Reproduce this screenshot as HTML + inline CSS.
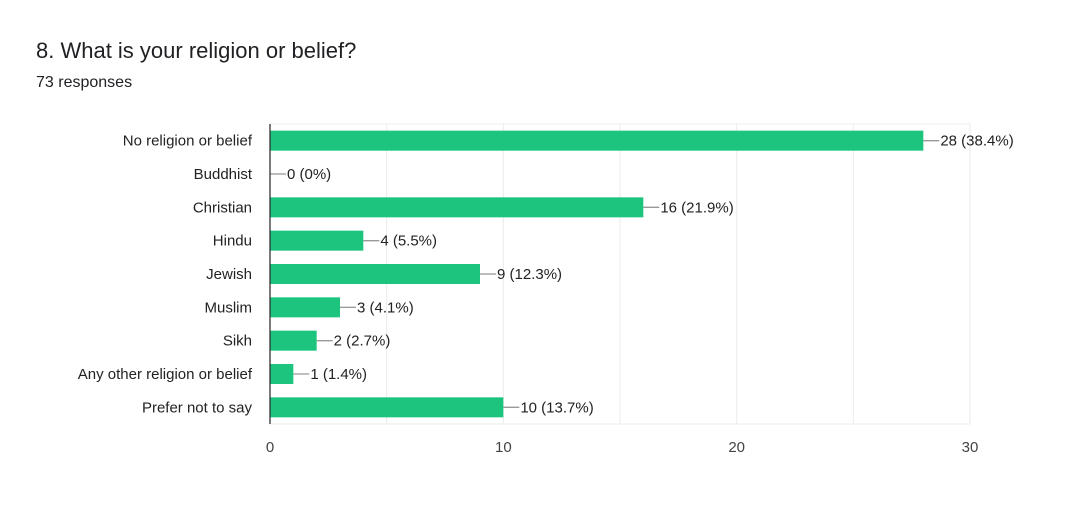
<!DOCTYPE html>
<html><head><meta charset="utf-8"><style>
body{margin:0;background:#fff;font-family:"Liberation Sans",Arial,sans-serif;}
#wrap{position:relative;width:1080px;height:513px;overflow:hidden;}
</style></head><body>
<div id="wrap">
<div style="position:absolute;left:36px;top:38px;font-size:22px;color:#202124;">8. What is your religion or belief?</div>
<div style="position:absolute;left:36px;top:74px;font-size:16px;color:#202124;">73 responses</div>
<svg id="chart" width="1080" height="513" style="position:absolute;left:0;top:0"></svg>
</div>
<script>
const categories=["No religion or belief","Buddhist","Christian","Hindu","Jewish","Muslim","Sikh","Any other religion or belief","Prefer not to say"];
const counts=[28,0,16,4,9,3,2,1,10];
const percents=["38.4%","0%","21.9%","5.5%","12.3%","4.1%","2.7%","1.4%","13.7%"];
const ticks=[0,10,20,30];
const gridVals=[5,10,15,20,25,30];
const svg=document.getElementById('chart');
const NS='http://www.w3.org/2000/svg';
const x0=270,x1=970,plotTop=124,plotBottom=424,maxV=30;
const xs=v=>x0+(x1-x0)*v/maxV;
const band=(plotBottom-plotTop)/categories.length;
const yc=i=>plotTop+band*(i+0.5);
function mk(t,a){const e=document.createElementNS(NS,t);for(const k in a)e.setAttribute(k,a[k]);svg.appendChild(e);return e;}
let b=mk('rect',{x:x0,y:plotTop,width:x1-x0,height:plotBottom-plotTop,fill:'none',stroke:'#eeeeee'});


gridVals.forEach(v=>{const g=mk('line',{x1:xs(v),x2:xs(v),y1:plotTop,y2:plotBottom,stroke:'#ebebeb'});

});
ticks.forEach(v=>{const t=mk('text',{x:xs(v),y:452,'text-anchor':'middle','font-size':15,fill:'#444'});t.textContent=v;

});
categories.forEach((c,i)=>{
const y=yc(i);
const l=mk('text',{x:252,y:y+5,'text-anchor':'end','font-size':15,fill:'#222'});l.textContent=c;


const r=mk('rect',{x:x0,y:y-10,width:xs(counts[i])-x0,height:20,fill:'#1cc47e'});


const ex=xs(counts[i]);
const ln=mk('line',{x1:ex,x2:ex+16,y1:y,y2:y,stroke:'#999','stroke-width':1.3});


const v=mk('text',{x:ex+17,y:y+5,'font-size':15,fill:'#222'});v.textContent=counts[i]+' ('+percents[i]+')';


});
const ax=mk('line',{x1:x0,x2:x0,y1:plotTop,y2:plotBottom,stroke:'#333','stroke-width':1.3});


</script>
</body></html>
